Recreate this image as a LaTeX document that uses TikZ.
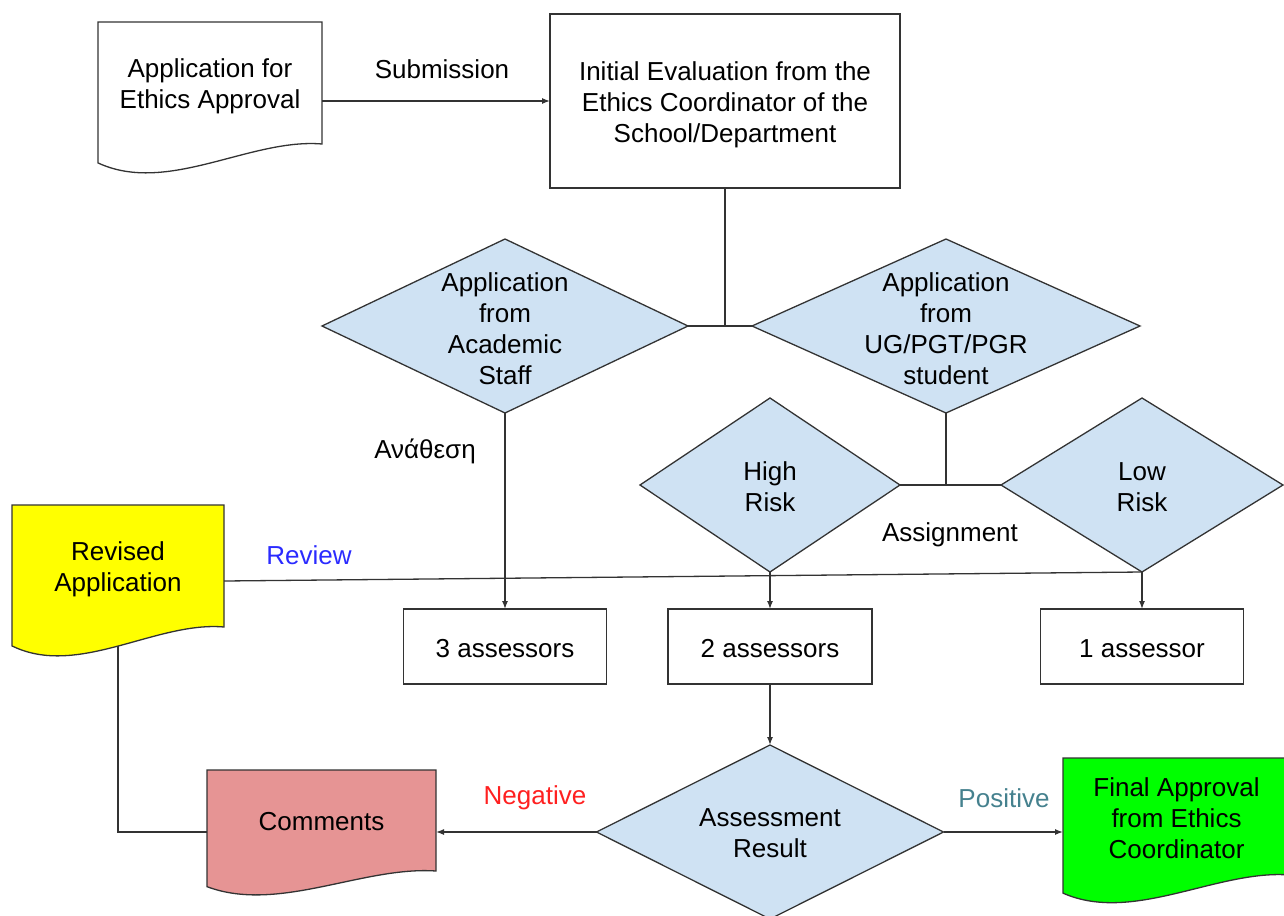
\documentclass[tikz,border=0pt]{standalone}
\usepackage{fontspec}
\setmainfont{Liberation Sans}
\usetikzlibrary{shapes.geometric,arrows.meta,calc,backgrounds}
\definecolor{diafill}{HTML}{CFE2F3}
\definecolor{linec}{HTML}{333333}
\definecolor{revfill}{HTML}{FFFF00}
\definecolor{comfill}{HTML}{E69494}
\definecolor{finfill}{HTML}{00FF00}
\definecolor{revtxt}{HTML}{2B2BFF}
\definecolor{negtxt}{HTML}{FF2020}
\definecolor{postxt}{HTML}{45818E}
\newcommand\fs{\fontsize{26}{31}\selectfont}
\newcommand\docshape[2]{%
  \filldraw[shapeline, fill=#2] let \p1=(#1.north west), \p2=(#1.south east) in
   (\p1) -- (\x2,\y1) -- (\p2)
   .. controls ({\x1+0.68*(\x2-\x1)},{\y2+0.05*(\y1-\y2)}) and ({\x1+0.31*(\x2-\x1)},{\y2-0.42*(\y1-\y2)})
   .. (\x1,{\y2-0.155*(\y1-\y2)}) -- cycle;}
\begin{document}
\begin{tikzpicture}[x=1pt,y=-1pt,
  every node/.style={font=\fs, align=center, inner sep=0pt, outer sep=0pt},
  shapeline/.style={draw=linec, line width=1.3pt},
  box/.style={shapeline, fill=white, rectangle},
  doc/.style={rectangle},
  dia/.style={shapeline, fill=diafill, diamond},
  tx/.style 2 args={label={[align=center,yshift=#1]center:#2}},
  conn/.style={draw=linec, line width=1.3pt},
  arr/.style={conn, -{Latex[length=8pt,width=6pt]}}]
\useasboundingbox (0,0) rectangle (1284,915);
\clip (0,0) rectangle (1284,915);

% nodes
\node[doc, minimum width=224pt, minimum height=122pt, tx={-3.5pt}{Application for\\Ethics Approval}] (app) at (210,83) {};
\node[box, minimum width=350pt, minimum height=174pt, tx={-3.5pt}{Initial Evaluation from the\\Ethics Coordinator of the\\School/Department}] (init) at (725,101) {};
\node[dia, minimum width=366pt, minimum height=174pt, tx={-3pt}{Application\\from\\Academic\\Staff}] (dA) at (505,326) {};
\node[dia, minimum width=388pt, minimum height=174pt, tx={-3pt}{Application\\from\\UG/PGT/PGR\\student}] (dS) at (946,326) {};
\node[dia, minimum width=260pt, minimum height=174pt, tx={-2pt}{High\\Risk}] (dH) at (770,485) {};
\node[dia, minimum width=282pt, minimum height=174pt, tx={-2pt}{Low\\Risk}] (dL) at (1142,485) {};
\node[box, minimum width=203pt, minimum height=75pt, tx={-2pt}{3 assessors}] (b3) at (505,646.5) {};
\node[box, minimum width=204pt, minimum height=75pt, tx={-2pt}{2 assessors}] (b2) at (770,646.5) {};
\node[box, minimum width=203pt, minimum height=75pt, tx={-2pt}{1 assessor}] (b1) at (1142,646.5) {};
\node[doc, minimum width=212pt, minimum height=122pt, tx={-3.5pt}{Revised\\Application}] (rev) at (118,566) {};
\node[dia, minimum width=347pt, minimum height=174pt, tx={-1pt}{Assessment\\Result}] (dR) at (770,832) {};
\node[doc, minimum width=229pt, minimum height=101pt, tx={-1pt}{Comments}] (com) at (321.5,820.5) {};
\node[doc, minimum width=227pt, minimum height=117pt, tx={-2pt}{Final Approval\\from Ethics\\Coordinator}] (fin) at (1176.5,816.5) {};

% labels
\node (lsub) at (442,69) {Submission};
\node (lana) at (425,451) {Ανάθεση};
\node (lass) at (950,535) {Assignment};
\node[text=revtxt] (lrev) at (309,555) {Review};
\node[text=negtxt] (lneg) at (535,798) {Negative};
\node[text=postxt] (lpos) at (1004,798) {Positive};

% connectors
\draw[arr] (app.east |- init.west) -- (init.west);
\draw[conn] (init.south) -- (init.south |- dA.east);
\draw[conn] (dA.east) -- (dS.west);
\draw[conn] (dS.south) -- (dS.south |- dH.east);
\draw[conn] (dH.east) -- (dL.west);
\draw[arr] (dA.south) -- (b3.north);
\draw[arr] (dH.south) -- (b2.north);
\draw[arr] (dL.south) -- (b1.north);
\draw[conn] ([yshift=-15pt]rev.east) -- (dL.south);
\draw[arr] (b2.south) -- (dR.north);
\draw[arr] (dR.west) -- (dR.west -| com.east);
\draw[arr] (dR.east) -- (dR.east -| fin.west);

\begin{pgfonlayer}{background}
  \clip (0,0) rectangle (1284,915);
  \draw[conn] (rev.south) |- (com.west |- dR.west);
  \docshape{app}{white}
  \docshape{rev}{revfill}
  \docshape{com}{comfill}
  \docshape{fin}{finfill}
\end{pgfonlayer}
\end{tikzpicture}
\end{document}
